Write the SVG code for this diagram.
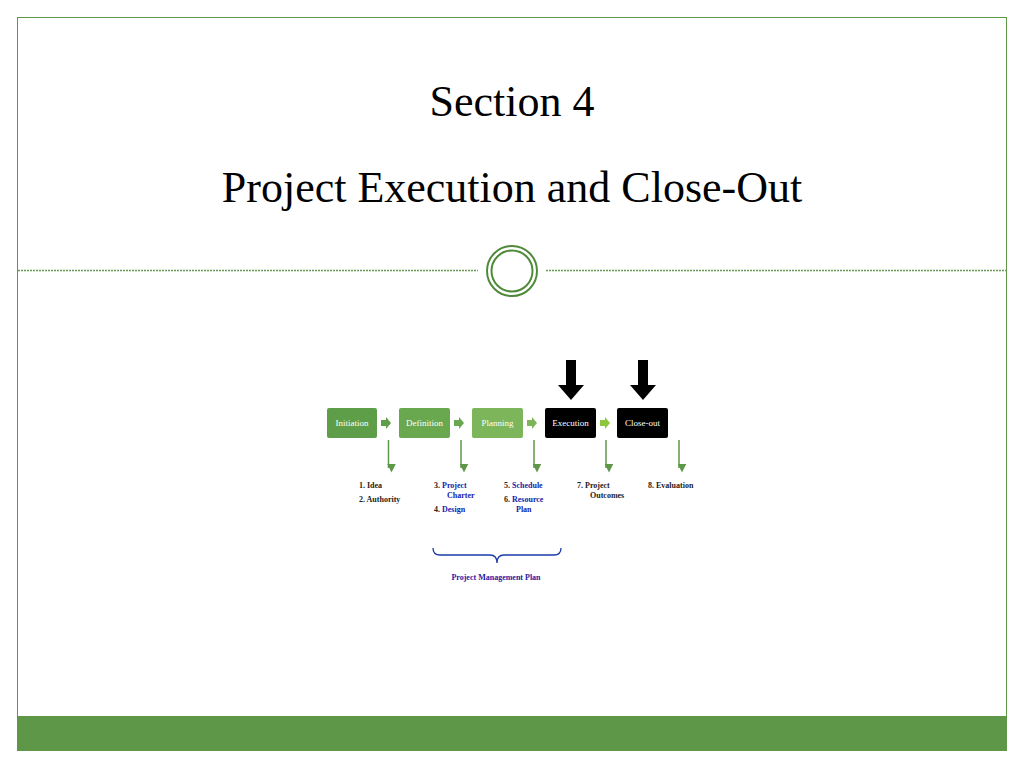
<svg xmlns="http://www.w3.org/2000/svg" width="1024" height="768" viewBox="0 0 1024 768">
<defs>
<style>
.t{font-family:"Liberation Serif",serif;fill:#000}
.bx{font-family:"Liberation Serif",serif;font-size:9px;fill:#fff;text-anchor:middle}
.li{font-family:"Liberation Serif",serif;font-size:8px;font-weight:bold;fill:#222}
.bl{fill:#1a1aa8}
.dn{stroke:#5e9748;stroke-width:1.5;fill:none}
</style>
<marker id="ah" markerWidth="6" markerHeight="6" refX="3" refY="5" orient="auto" viewBox="0 0 6 6"><path d="M0,0 L6,0 L3,6 Z" fill="#5e9748" transform="rotate(-90 3 3)"/></marker>
<polygon id="sa" points="0,-3 5,-3 5,-6 10,0 5,6 5,3 0,3"/>
</defs>
<rect x="0" y="0" width="1024" height="768" fill="#fff"/>
<rect x="17.5" y="17.5" width="989" height="733" fill="none" stroke="#5e9748" stroke-width="1"/>
<rect x="17" y="716" width="990" height="34" fill="#5e9748"/>
<line x1="18" y1="270.5" x2="478" y2="270.5" stroke="#6a9a55" stroke-width="1.5" stroke-dasharray="2,1"/>
<line x1="546" y1="270.5" x2="1006" y2="270.5" stroke="#6a9a55" stroke-width="1.5" stroke-dasharray="2,1"/>
<circle cx="512" cy="271" r="25" fill="#fff" stroke="#4f8a3a" stroke-width="2"/>
<circle cx="512" cy="271" r="20.5" fill="none" stroke="#4f8a3a" stroke-width="2"/>
<text class="t" x="512" y="116" font-size="44" text-anchor="middle">Section 4</text>
<text class="t" x="512" y="202" font-size="44" text-anchor="middle">Project Execution and Close-Out</text>

<g id="initiation"><rect x="327" y="408" width="50" height="30" rx="2" fill="#5e9e48"/><text class="bx" x="352" y="426">Initiation</text></g>
<g id="definition"><rect x="399" y="408" width="51" height="30" rx="2" fill="#6aa84f"/><text class="bx" x="424.5" y="426">Definition</text></g>
<g id="planning"><rect x="472" y="408" width="51" height="30" rx="2" fill="#7cb55a"/><text class="bx" x="497.5" y="426">Planning</text></g>
<g id="execution"><rect x="545" y="408" width="51" height="30" rx="2" fill="#000"/><text class="bx" x="570.5" y="426">Execution</text></g>
<g id="closeout"><rect x="617" y="408" width="51" height="30" rx="2" fill="#000"/><text class="bx" x="642.5" y="426">Close-out</text></g>

<g id="connectors">
<use href="#sa" x="381" y="423" fill="#5e9e48"/>
<use href="#sa" x="454" y="423" fill="#6aa84f"/>
<use href="#sa" x="527" y="423" fill="#7cb55a"/>
<use href="#sa" x="600" y="423" fill="#8cc63f"/>
<polygon points="566,360 576,360 576,385 584,385 571,400 558,385 566,385" fill="#000"/>
<polygon points="638,360 648,360 648,385 656,385 643,400 630,385 638,385" fill="#000"/>
<line class="dn" x1="388.5" y1="440" x2="388.5" y2="468" marker-end="url(#ah)"/>
<line class="dn" x1="461" y1="440" x2="461" y2="468" marker-end="url(#ah)"/>
<line class="dn" x1="534" y1="440" x2="534" y2="468" marker-end="url(#ah)"/>
<line class="dn" x1="606" y1="440" x2="606" y2="468" marker-end="url(#ah)"/>
<line class="dn" x1="679" y1="440" x2="679" y2="468" marker-end="url(#ah)"/>
<path d="M433,548 Q433,555 440,555 L490,555 Q497,555 497,563 Q497,555 504,555 L554,555 Q561,555 561,548" fill="none" stroke="#1a3aa8" stroke-width="1.3"/>
</g>

<g id="lists">
<text class="li" x="359" y="488">1.  Idea</text>
<text class="li" x="359" y="502">2.  Authority</text>
<text class="li" x="434" y="488"><tspan>3.  </tspan><tspan class="bl">Project</tspan></text>
<text class="li bl" x="447" y="498">Charter</text>
<text class="li" x="434" y="512"><tspan>4.  </tspan><tspan class="bl">Design</tspan></text>
<text class="li" x="504" y="488"><tspan>5.  </tspan><tspan class="bl">Schedule</tspan></text>
<text class="li" x="504" y="502"><tspan>6.  </tspan><tspan class="bl">Resource</tspan></text>
<text class="li bl" x="516" y="512">Plan</text>
<text class="li" x="577" y="488">7.  Project</text>
<text class="li" x="590" y="498">Outcomes</text>
<text class="li" x="648" y="488">8.  Evaluation</text>
<text class="li bl" x="496" y="580" text-anchor="middle">Project Management Plan</text>
</g>
</svg>
